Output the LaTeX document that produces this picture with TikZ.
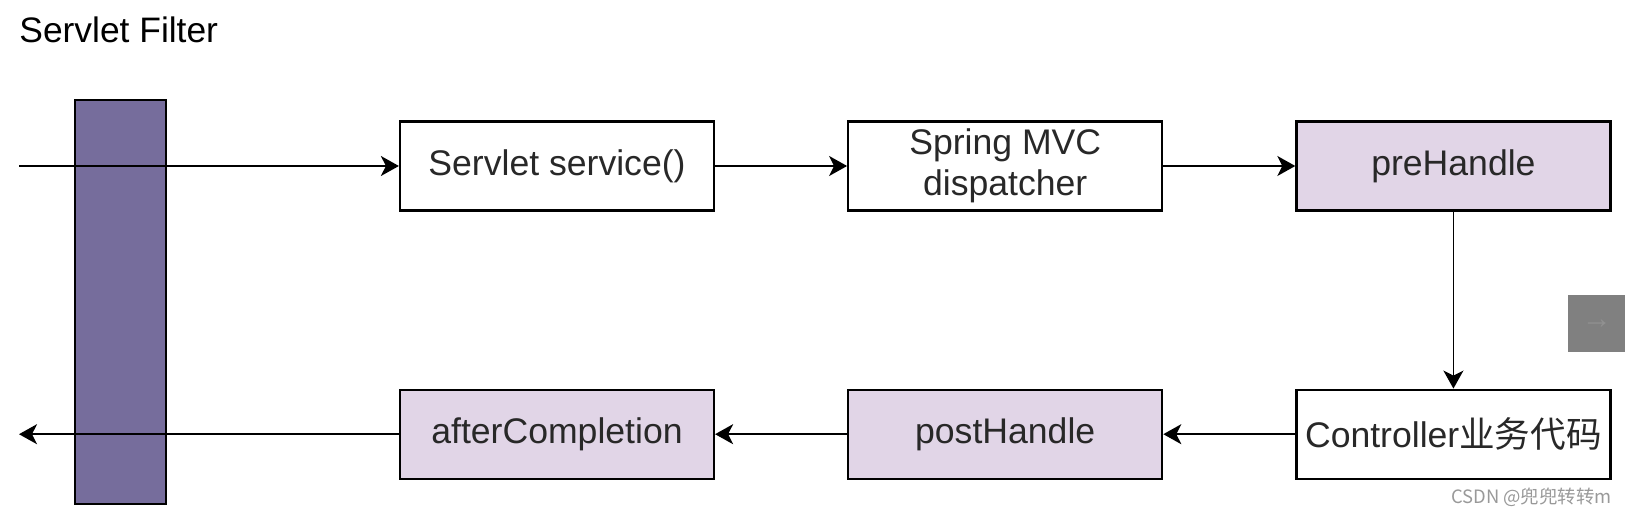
\documentclass[tikz,border=0pt]{standalone}
\usepackage{fontspec}
\setmainfont{Liberation Sans}
\newfontfamily\cjk{Noto Sans CJK SC}
\usetikzlibrary{positioning,arrows.meta}
\definecolor{filterpurple}{RGB}{118,109,156}
\definecolor{hookpink}{RGB}{225,213,231}
\definecolor{buttongray}{RGB}{128,128,128}
\definecolor{arrowgray}{RGB}{145,145,145}
\definecolor{labelgray}{RGB}{40,40,40}

\begin{document}
\begin{tikzpicture}[x=1pt,y=1pt,
    flowbox/.style={rectangle, draw=black, line width=1.1pt, minimum width=157pt, minimum height=44.5pt, text=labelgray, font=\fontsize{17.8}{20.5}\selectfont},
    hookbox/.style={flowbox, fill=hookpink},
    flow/.style={-{Stealth[length=9pt,width=10pt,inset=2.5pt]}, line width=0.9pt}]
        \useasboundingbox (0,0) rectangle (813.5,-258.5);
        \node (title) [anchor=base west, inner sep=0pt, font=\fontsize{17.7}{20}\selectfont] at (9.5,-21.5) {Servlet Filter};
        \node (filter) [rectangle, draw=black, line width=1.1pt, fill=filterpurple, minimum width=45.5pt, minimum height=202pt, anchor=north west] at (37,-49.5) {};
        % upper row
        \node (service) [flowbox] at (278.5,-83) {Servlet service()};
        \node (dispatcher) [flowbox, align=center, right=66pt of service] {Spring MVC\\dispatcher};
        \node (prehandle) [hookbox, right=66pt of dispatcher] {preHandle};
        % lower row
        \node (controller) [flowbox, below=88.5pt of prehandle] {Controller{\cjk 业务代码}};
        \node (posthandle) [hookbox, left=66pt of controller] {postHandle};
        \node (aftercompletion) [hookbox, left=66pt of posthandle] {afterCompletion};
        \coordinate (entry) at (9.5,-83);
        \coordinate (exit) at (entry |- aftercompletion);
        \draw [flow] (entry) -- (service);
        \draw [flow] (service) -- (dispatcher);
        \draw [flow] (dispatcher) -- (prehandle);
        \draw [flow] (prehandle) -- (controller);
        \draw [flow] (controller) -- (posthandle);
        \draw [flow] (posthandle) -- (aftercompletion);
        \draw [flow] (aftercompletion) -- (exit);
        \node (scroll) [rectangle, fill=buttongray, minimum size=28.5pt, inner sep=0pt, anchor=north west, text=arrowgray, font=\fontsize{15}{15}\selectfont] at (784,-147.5) {→};
        \node (watermark) [anchor=east, inner sep=0pt, text=black!40, font=\cjk\fontsize{9.2}{10}\selectfont] at (806,-248.5) {CSDN @兜兜转转m};
\end{tikzpicture}
\end{document}
